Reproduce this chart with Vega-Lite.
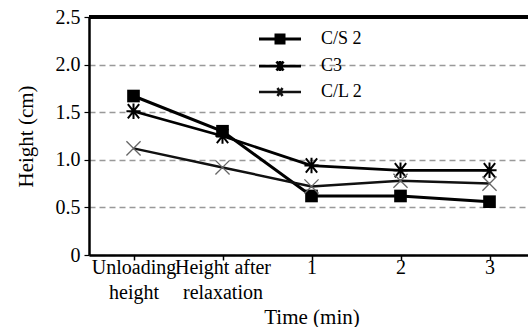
{
  "$schema": "https://vega.github.io/schema/vega-lite/v6.json",
  "width": 445,
  "height": 238,
  "autosize": "none",
  "padding": {"left": 89, "top": 17, "right": -6, "bottom": 72},
  "background": "white",
  "config": {
    "font": "Liberation Serif",
    "view": {"stroke": null}
  },
  "data": {
    "values": [
      {"time": "Unloading height", "series": "C/S 2", "height": 1.67},
      {"time": "Height after relaxation", "series": "C/S 2", "height": 1.30},
      {"time": "1", "series": "C/S 2", "height": 0.62},
      {"time": "2", "series": "C/S 2", "height": 0.62},
      {"time": "3", "series": "C/S 2", "height": 0.56},
      {"time": "Unloading height", "series": "C3", "height": 1.51},
      {"time": "Height after relaxation", "series": "C3", "height": 1.25},
      {"time": "1", "series": "C3", "height": 0.94},
      {"time": "2", "series": "C3", "height": 0.89},
      {"time": "3", "series": "C3", "height": 0.89},
      {"time": "Unloading height", "series": "C/L 2", "height": 1.12},
      {"time": "Height after relaxation", "series": "C/L 2", "height": 0.92},
      {"time": "1", "series": "C/L 2", "height": 0.72},
      {"time": "2", "series": "C/L 2", "height": 0.78},
      {"time": "3", "series": "C/L 2", "height": 0.75}
    ]
  },
  "encoding": {
    "x": {
      "field": "time", "type": "nominal",
      "sort": ["Unloading height", "Height after relaxation", "1", "2", "3"],
      "scale": {"paddingInner": 0, "paddingOuter": 0},
      "axis": {
        "title": "Time (min)", "titleFont": "Liberation Serif", "titleFontSize": 21, "titleFontWeight": "normal", "titleColor": "black", "titlePadding": 4,
        "labelFont": "Liberation Serif", "labelColor": "black",
        "labelAngle": 0, "labelFontSize": 20, "labelPadding": -3, "labelLineHeight": 25,
        "labelExpr": "datum.label == 'Unloading height' ? ['Unloading', 'height'] : datum.label == 'Height after relaxation' ? ['Height after', 'relaxation'] : datum.label",
        "bandPosition": 0, "tickColor": "black", "tickSize": 5, "tickWidth": 1.5,
        "domainColor": "black", "domainWidth": 2.5, "grid": false
      }
    },
    "y": {
      "field": "height", "type": "quantitative",
      "scale": {"domain": [0, 2.5], "nice": false},
      "axis": {
        "title": "Height (cm)", "titleFont": "Liberation Serif", "titleFontSize": 21, "titleFontWeight": "normal", "titleColor": "black", "titlePadding": 19,
        "values": [0, 0.5, 1, 1.5, 2, 2.5],
        "labelExpr": "datum.value == 0 ? '0' : format(datum.value, '.1f')",
        "labelFont": "Liberation Serif", "labelColor": "black",
        "labelFontSize": 20, "labelPadding": 4, "tickSize": 5, "tickColor": "black", "tickWidth": 1.2,
        "domainColor": "black", "domainWidth": 2.5,
        "grid": true, "gridColor": "#999", "gridDash": [6, 4], "gridWidth": 1.5
      }
    }
  },
  "layer": [
    {
      "mark": {"type": "rule", "color": "black", "strokeWidth": 2.5},
      "encoding": {"y": {"datum": 2.5}, "x": null}
    },
    {
      "mark": {"type": "line"},
      "encoding": {
        "color": {
          "field": "series", "type": "nominal",
          "scale": {"domain": ["C/S 2", "C3", "C/L 2"], "range": ["black", "black", "#111"]},
          "legend": {
            "title": null, "orient": "none", "legendX": 182, "legendY": 13,
            "direction": "vertical", "padding": 0, "symbolOffset": 0,
            "symbolSize": 100, "labelOffset": 32, "labelFont": "Liberation Serif", "labelFontSize": 18, "labelColor": "black",
            "rowPadding": 6,
            "encode": {
              "symbols": {
                "update": {
                  "shape": {"signal": "datum.value == 'C/S 2' ? 'M-4.2,0L4.2,0M-0.8,-0.8L0.8,-0.8L0.8,0.8L-0.8,0.8Z' : datum.value == 'C3' ? 'M-4.2,0L4.2,0M-0.7,-0.9L0.7,0.9M-0.7,0.9L0.7,-0.9M0,-1L0,1' : 'M-4.2,0L4.2,0M-0.5,-0.8L0.5,0.8M-0.5,0.8L0.5,-0.8'"},
                  "fill": {"value": "black"},
                  "stroke": {"value": "black"},
                  "strokeWidth": {"signal": "datum.value == 'C/L 2' ? 2.2 : 3.2"}
                }
              }
            }
          }
        },
        "strokeWidth": {
          "field": "series", "type": "nominal",
          "scale": {"domain": ["C/S 2", "C3", "C/L 2"], "range": [3, 2.5, 1.5]},
          "legend": null
        }
      }
    },
    {
      "transform": [{"filter": "datum.series == 'C/S 2'"}],
      "mark": {"type": "point", "shape": "square", "filled": true, "color": "black", "size": 160, "opacity": 1}
    },
    {
      "transform": [{"filter": "datum.series == 'C3'"}],
      "mark": {"type": "point", "shape": "M-0.8,-1L0.8,1M-0.8,1L0.8,-1M0,-1.1L0,1.1M-1,0L1,0", "filled": false, "color": "black", "strokeWidth": 2, "size": 200, "opacity": 1}
    },
    {
      "transform": [{"filter": "datum.series == 'C/L 2'"}],
      "mark": {"type": "point", "shape": "M-1,-1L1,1M-1,1L1,-1", "filled": false, "color": "#666", "strokeWidth": 1.3, "size": 200, "opacity": 1}
    }
  ]
}
